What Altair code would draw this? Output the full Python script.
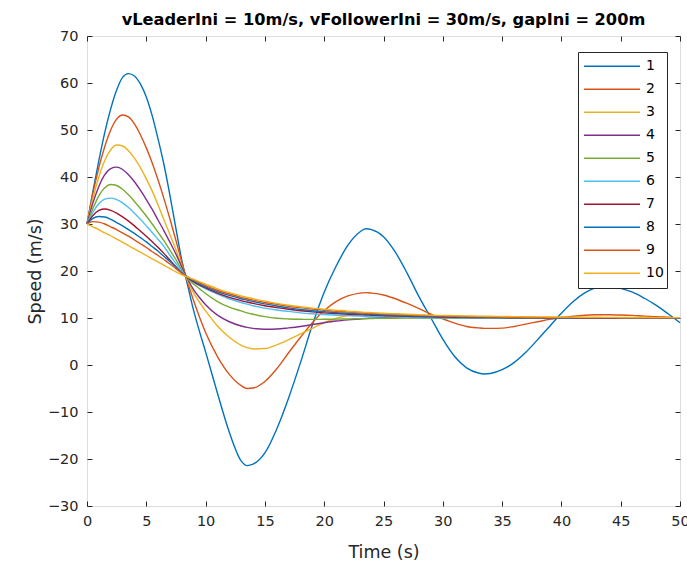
import altair as alt
import pandas as pd

T = [0, 0.5, 1, 1.5, 2, 2.5, 3, 3.5, 4, 4.5, 5, 5.5, 6, 6.5, 7, 7.5, 8, 8.5, 9, 9.5, 10,
     11, 12, 13, 13.5, 14,
     15, 16, 17, 18, 19, 20, 21, 22, 23,
     23.5,
     24, 25, 26, 27, 28, 29, 30, 31, 32, 33,
     33.5,
     34, 35, 36, 37, 38, 39, 40, 41, 42, 43,
     43.5,
     44, 45, 46, 47, 48, 49, 50]

S1 = [30, 37, 43.5, 49.5, 54.5, 58.5, 61.2, 62, 61.5, 59.8, 57, 53, 48, 42.5, 36, 29, 22.2, 16.8, 11.5, 7, 2.8,
      -6, -14.3, -20.4, -21.4, -21.1,
      -18.7, -13.6, -7, 0.5, 8.5, 15.5, 21, 25.5, 28.3,
      29,
      28.8, 27.3, 24, 19.5, 14.5, 10, 5.5, 1.8, -0.6, -1.7,
      -1.9,
      -1.8, -1, 0.5, 2.7, 5.4, 8.2, 11, 13.5, 15.4, 16.5,
      16.8,
      16.8, 16.3, 15.5, 14.2, 12.7, 10.9, 9]

S2 = [30, 36.5, 42, 46.5, 50, 52.3, 53.2, 52.8, 51.3, 49, 46.2, 43, 39.3, 35.3, 31, 26.5, 21.8, 17.5, 13.6, 10.1, 6.9,
      1.8, -2, -4.4, -5, -4.9,
      -3.5, -0.8, 2.6, 5.9, 9, 11.6, 13.5, 14.7, 15.3,
      15.4,
      15.3, 14.9, 14.1, 13.1, 12, 10.8, 9.8, 8.9, 8.2, 7.9,
      7.8,
      7.8, 7.85, 8.2, 8.7, 9.2, 9.7, 10.1, 10.4, 10.6, 10.7,
      10.7,
      10.7, 10.65, 10.55, 10.4, 10.3, 10.15, 10]

S3 = [30, 35.5, 40, 43.5, 45.8, 46.8, 46.6, 45.6, 44, 42, 39.6, 37, 34, 30.8, 27.7, 24.5, 21, 17.8, 15.3, 13.3, 11.5,
      8.3, 5.9, 4.2, 3.7, 3.4,
      3.5, 4.3, 5.4, 6.6, 7.8, 9, 9.9, 10.5, 10.8,
      10.9,
      10.9, 10.9, 10.8, 10.6, 10.45, 10.3, 10.2, 10.1, 10.05, 10,
      10,
      9.98, 9.97, 9.97, 9.98, 9.98, 9.99, 10, 10, 10, 10,
      10,
      10, 10, 10, 10, 10, 10, 10]

S4 = [30, 34.5, 38, 40.5, 41.8, 42.1, 41.6, 40.5, 39, 37.2, 35.2, 33.1, 30.8, 28.5, 26.1, 23.6, 20.8, 18.2, 16, 14.3, 12.8,
      10.6, 9.2, 8.3, 8, 7.8,
      7.6, 7.65, 7.9, 8.2, 8.6, 9, 9.35, 9.6, 9.8,
      9.9,
      9.95, 10.05, 10.1, 10.1, 10.1, 10.1, 10.05, 10.05, 10, 10,
      10,
      10, 10, 10, 10, 10, 10, 10, 10, 10, 10,
      10,
      10, 10, 10, 10, 10, 10, 10]

S5 = [30, 33.3, 36, 37.7, 38.4, 38.2, 37.4, 36.2, 34.8, 33.3, 31.7, 30, 28.2, 26.4, 24.4, 22.4, 20.2, 18.3, 17.2, 16.2, 15.2,
      13.5, 12.3, 11.5, 11.1, 10.8,
      10.3, 9.95, 9.8, 9.72, 9.7, 9.72, 9.75, 9.8, 9.85,
      9.87,
      9.9, 9.93, 9.96, 9.98, 10, 10, 10, 10, 10, 10,
      10,
      10, 10, 10, 10, 10, 10, 10, 10, 10, 10,
      10,
      10, 10, 10, 10, 10, 10, 10]

S6 = [30, 32.5, 34.3, 35.3, 35.5, 35.2, 34.5, 33.5, 32.3, 31, 29.6, 28.2, 26.7, 25.2, 23.3, 21.6, 19.9, 18.5, 17.6, 16.9, 16.2,
      15.1, 14.1, 13.3, 12.95, 12.6,
      12.1, 11.7, 11.4, 11.1, 10.9, 10.75, 10.6, 10.5, 10.4,
      10.37,
      10.33, 10.27, 10.2, 10.15, 10.1, 10.08, 10.05, 10.03, 10.02, 10,
      10,
      10, 10, 10, 10, 10, 10, 10, 10, 10, 10,
      10,
      10, 10, 10, 10, 10, 10, 10]

S7 = [30, 31.8, 32.9, 33.2, 32.9, 32.3, 31.5, 30.6, 29.6, 28.5, 27.4, 26.2, 25, 23.7, 22.3, 20.9, 19.5, 18.5, 17.7, 17, 16.4,
      15.3, 14.4, 13.7, 13.4, 13.1,
      12.6, 12.2, 11.85, 11.55, 11.3, 11.1, 10.95, 10.8, 10.7,
      10.65,
      10.6, 10.5, 10.42, 10.35, 10.3, 10.25, 10.2, 10.16, 10.13, 10.1,
      10.09,
      10.08, 10.07, 10.06, 10.05, 10.04, 10.03, 10.02, 10.02, 10.01, 10.01,
      10.01,
      10, 10, 10, 10, 10, 10, 10]

S8 = [30, 31.2, 31.6, 31.5, 31, 30.3, 29.6, 28.8, 28, 27.1, 26.2, 25.2, 24.2, 23.1, 22, 20.8, 19.6, 18.7, 17.9, 17.2, 16.6,
      15.6, 14.8, 14.1, 13.8, 13.5,
      13, 12.55, 12.15, 11.8, 11.55, 11.35, 11.15, 11, 10.85,
      10.8,
      10.75, 10.65, 10.55, 10.48, 10.4, 10.35, 10.3, 10.25, 10.2, 10.17,
      10.15,
      10.14, 10.12, 10.1, 10.08, 10.07, 10.06, 10.05, 10.04, 10.03, 10.03,
      10.02,
      10.02, 10.02, 10.01, 10.01, 10.01, 10, 10]

S9 = [30, 30.5, 30.4, 30, 29.4, 28.8, 28.1, 27.4, 26.6, 25.8, 25, 24.1, 23.3, 22.4, 21.5, 20.5, 19.5, 18.7, 18.1, 17.5, 16.9,
      15.9, 15.1, 14.4, 14.1, 13.8,
      13.3, 12.9, 12.5, 12.2, 11.9, 11.65, 11.45, 11.25, 11.1,
      11.05,
      11, 10.85, 10.75, 10.65, 10.55, 10.5, 10.4, 10.35, 10.3, 10.25,
      10.23,
      10.21, 10.18, 10.15, 10.13, 10.11, 10.1, 10.08, 10.07, 10.06, 10.05,
      10.05,
      10.04, 10.04, 10.03, 10.03, 10.02, 10.02, 10.02]

S10 = [30, 29.4, 28.8, 28.1, 27.5, 26.8, 26.1, 25.4, 24.7, 24, 23.3, 22.6, 21.9, 21.2, 20.5, 19.8, 19.2, 18.7, 18.2, 17.7, 17.2,
       16.2, 15.4, 14.7, 14.4, 14.1,
       13.6, 13.1, 12.7, 12.4, 12.1, 11.85, 11.65, 11.45, 11.3,
       11.2,
       11.15, 11, 10.9, 10.8, 10.7, 10.6, 10.55, 10.5, 10.45, 10.4,
       10.38,
       10.36, 10.33, 10.3, 10.27, 10.24, 10.22, 10.2, 10.18, 10.16, 10.15,
       10.14,
       10.13, 10.12, 10.11, 10.1, 10.09, 10.08, 10.07]

NAMES = ["1", "2", "3", "4", "5", "6", "7", "8", "9", "10"]
COLORS = ["#0072BD", "#D95319", "#EDB120", "#7E2F8E", "#77AC30",
          "#4DBEEE", "#A2142F", "#0072BD", "#D95319", "#EDB120"]
SERIES = [S1, S2, S3, S4, S5, S6, S7, S8, S9, S10]
X_TICKS = [0, 5, 10, 15, 20, 25, 30, 35, 40, 45, 50]
Y_TICKS = [-30, -20, -10, 0, 10, 20, 30, 40, 50, 60, 70]

rows = []
for k, (name, vals) in enumerate(zip(NAMES, SERIES)):
    for t, v in zip(T, vals):
        rows.append({"t": t, "v": v, "s": name, "k": k})
df = pd.DataFrame(rows)

W, H = 593, 470
FONT = "DejaVu Sans"
AX = "#262626"

xs = alt.Scale(domain=[0, 50], nice=False, zero=False)
ys = alt.Scale(domain=[-30, 70], nice=False, zero=False)

main = alt.Chart(df).mark_line(strokeWidth=1.4, interpolate="monotone").encode(
    x=alt.X("t:Q", scale=xs, axis=alt.Axis(
        orient="bottom", values=X_TICKS, ticks=False, domain=False, grid=False,
        labelFlush=False, labelOverlap=False,
        title="Time (s)", titleFontSize=17.5, titleFontWeight="normal", titleColor=AX,
        titleFont=FONT, labelFont=FONT, labelFontSize=14.5, labelColor=AX,
        labelPadding=8, titlePadding=16)),
    y=alt.Y("v:Q", scale=ys, axis=alt.Axis(
        orient="left", values=Y_TICKS, ticks=False, domain=False, grid=False,
        labelFlush=False, labelOverlap=False,
        title="Speed (m/s)", titleFontSize=17.5, titleFontWeight="normal", titleColor=AX,
        titleFont=FONT, labelFont=FONT, labelFontSize=14.5, labelColor=AX,
        labelPadding=9, titlePadding=3)),
    color=alt.Color("s:N", sort=NAMES, scale=alt.Scale(domain=NAMES, range=COLORS),
                    legend=alt.Legend(
                        title=None, orient="none", legendX=491, legendY=16,
                        symbolType="stroke", symbolSize=3136, symbolStrokeWidth=1.4,
                        symbolOffset=2,
                        labelFont=FONT, labelFontSize=14, labelColor="#000",
                        fillColor="white", strokeColor=AX, padding=3,
                        labelOffset=5, clipHeight=22.6, rowPadding=0)),
    order=alt.Order("k:Q"),
)

ticks_a = alt.Chart(df).mark_line(opacity=0).encode(
    x=alt.X("t:Q", scale=xs, axis=alt.Axis(
        orient="top", offset=-H, values=X_TICKS, labels=False, domain=False,
        grid=False, ticks=True, tickSize=5, tickColor=AX, title=None)),
    y=alt.Y("v:Q", scale=ys, axis=alt.Axis(
        orient="right", offset=-W, values=Y_TICKS, labels=False, domain=False,
        grid=False, ticks=True, tickSize=5, tickColor=AX, title=None)),
    detail="s:N",
)

ticks_b = alt.Chart(df).mark_line(opacity=0).encode(
    x=alt.X("t:Q", scale=xs, axis=alt.Axis(
        orient="bottom", offset=-H, values=X_TICKS, labels=False, domain=False,
        grid=False, ticks=True, tickSize=5, tickColor=AX, title=None)),
    y=alt.Y("v:Q", scale=ys, axis=alt.Axis(
        orient="left", offset=-W, values=Y_TICKS, labels=False, domain=False,
        grid=False, ticks=True, tickSize=5, tickColor=AX, title=None)),
    detail="s:N",
)

chart = alt.layer(main, ticks_a, ticks_b).resolve_axis(
    x="independent", y="independent"
).properties(
    width=W, height=H,
    autosize=alt.AutoSizeParams(type="none"),
    padding={"left": 87, "top": 36, "right": 7, "bottom": 58},
    title=alt.TitleParams(
        text="vLeaderIni = 10m/s, vFollowerIni = 30m/s, gapIni = 200m",
        font=FONT, fontSize=16.2, fontWeight="bold", color="#000",
        anchor="middle", offset=0),
).configure_view(stroke=AX, strokeWidth=1).configure(background="white")

chart.save("out.html", embed_options={"renderer": "svg", "actions": False})
